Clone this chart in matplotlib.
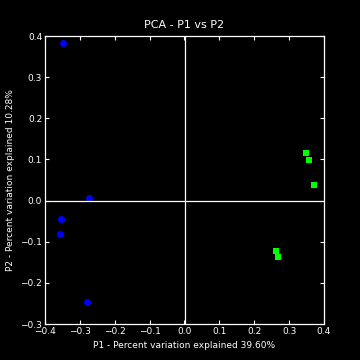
import numpy as np
import matplotlib.pyplot as plt

# PCA scores (P1, P2) for the two groups
blue_p1 = np.array([-0.348, -0.274, -0.354, -0.357, -0.279])
blue_p2 = np.array([0.382, 0.006, -0.045, -0.081, -0.247])
green_p1 = np.array([0.348, 0.358, 0.370, 0.263, 0.269])
green_p2 = np.array([0.115, 0.099, 0.037, -0.122, -0.136])

plt.style.use('dark_background')
plt.rcParams['xtick.direction'] = 'in'
plt.rcParams['ytick.direction'] = 'in'
plt.rcParams['xtick.top'] = True
plt.rcParams['ytick.right'] = True

fig = plt.figure(figsize=(3.6, 3.6), dpi=100)
ax = fig.add_axes([0.125, 0.1, 0.775, 0.8])

ax.plot(blue_p1, blue_p2, 'o', color='#0000ff', markersize=5, markeredgewidth=0)
ax.plot(green_p1, green_p2, 's', color='#00ff00', markersize=3.8, markeredgewidth=0)
ax.axhline(0, color='white', lw=0.9)
ax.axvline(0, color='white', lw=0.9)

ax.set_xlim(-0.4, 0.4)
ax.set_ylim(-0.3, 0.4)
ax.set_xticks(np.arange(-0.4, 0.41, 0.1))
ax.set_yticks(np.arange(-0.3, 0.41, 0.1))
ax.tick_params(labelsize=6.5, length=3, width=0.8, pad=2)
for s in ax.spines.values():
    s.set_linewidth(0.9)

ax.set_title("PCA - P1 vs P2", fontsize=8)
ax.set_xlabel("P1 - Percent variation explained 39.60%", fontsize=6.5)
ax.set_ylabel("P2 - Percent variation explained 10.28%", fontsize=6.5)

fig.savefig("out.png", dpi=100)
